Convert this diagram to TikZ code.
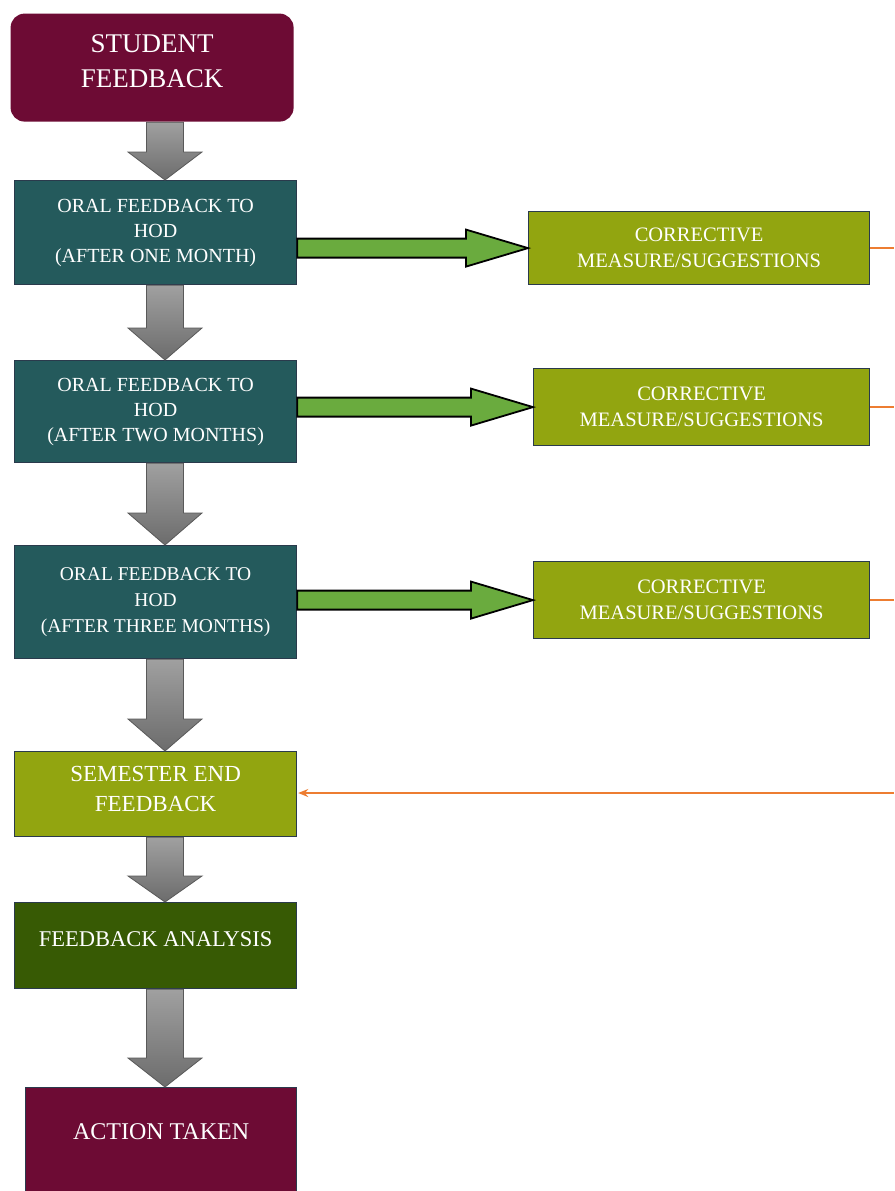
\documentclass[tikz,border=0pt]{standalone}
\usepackage{fontspec}
\setmainfont{Liberation Serif}
\usetikzlibrary{calc,arrows.meta}

\definecolor{wine}{HTML}{6D0B34}
\definecolor{deepteal}{HTML}{245A5C}
\definecolor{olive}{HTML}{92A510}
\definecolor{forest}{HTML}{375A04}
\definecolor{boxline}{HTML}{2A3A4C}
\definecolor{leaf}{HTML}{6AAB3E}
\definecolor{tangerine}{HTML}{ED7D31}
\definecolor{steeltop}{HTML}{A0A0A0}
\definecolor{steelbot}{HTML}{6C6C6C}

% wide grey block arrow pointing down, from one box to the next
\newcommand\downflow[3]{%
  \path[grayarrow] let \p1=(#1.south), \p2=(#2.north) in
    (146.5pt,\y1) -- (183.5pt,\y1) -- (183.5pt,\y2+#3) -- (202pt,\y2+#3)
    -- (165pt,\y2) -- (128pt,\y2+#3) -- (146.5pt,\y2+#3) -- cycle;}

% green block arrow pointing right, into a side box
\newcommand\rightflow[2]{%
  \path[greenarrow] let \p1=(#1.east), \p2=(#2.west) in
    (\x1,\y2+9.5pt) -- (\x2-62pt,\y2+9.5pt) -- (\x2-62pt,\y2+18.5pt)
    -- (\x2,\y2) -- (\x2-62pt,\y2-18.5pt) -- (\x2-62pt,\y2-9.5pt)
    -- (\x1,\y2-9.5pt) -- cycle;}

\begin{document}
\begin{tikzpicture}[x=1pt,y=-1pt,
  box/.style={draw=boxline, line width=1.2pt, text=white, align=center,
    anchor=north west, inner sep=0pt},
  grayarrow/.style={draw=black!65, line width=0.8pt,
    top color=steeltop, bottom color=steelbot},
  greenarrow/.style={draw=black, line width=1.8pt, fill=leaf},
  orangeline/.style={draw=tangerine, line width=2.2pt},
]
\useasboundingbox (0,0) rectangle (894,1191);
\clip (0,0) rectangle (894,1191);
\fill[white] (0,0) rectangle (894,1191);

% main column
\node[box, draw=none, fill=wine, rounded corners=14pt,
  minimum width=283pt, minimum height=108pt, text depth=14pt,
  font=\fontsize{27}{35}\selectfont] (sf) at (10,13) {STUDENT\\FEEDBACK};

\node[box, fill=deepteal, minimum width=282pt, minimum height=104pt,
  font=\fontsize{20}{25}\selectfont] (o1) at (14,180)
  {ORAL FEEDBACK TO\\HOD\\(AFTER ONE MONTH)};

\node[box, fill=deepteal, minimum width=282pt, minimum height=102pt,
  font=\fontsize{20}{25}\selectfont] (o2) at (14,360)
  {ORAL FEEDBACK TO\\HOD\\(AFTER TWO MONTHS)};

\node[box, fill=deepteal, minimum width=282pt, minimum height=113pt,
  font=\fontsize{19.5}{26}\selectfont] (o3) at (14,545)
  {ORAL FEEDBACK TO\\HOD\\(AFTER THREE MONTHS)};

\node[box, fill=olive, minimum width=282pt, minimum height=85pt,
  text depth=10pt, font=\fontsize{23}{30}\selectfont] (sem) at (14,751)
  {SEMESTER END\\FEEDBACK};

\node[box, fill=forest, minimum width=282pt, minimum height=86pt,
  text depth=14pt, font=\fontsize{22.5}{28}\selectfont] (fa) at (14,902)
  {FEEDBACK ANALYSIS};

\node[box, fill=wine, minimum width=271pt, minimum height=115pt,
  text depth=28pt, font=\fontsize{24}{28}\selectfont] (at) at (25,1087)
  {ACTION TAKEN};

% side boxes
\node[box, fill=olive, minimum width=341pt, minimum height=73pt,
  font=\fontsize{20.5}{26}\selectfont] (c1) at (528,211)
  {CORRECTIVE\\MEASURE/SUGGESTIONS};
\node[box, fill=olive, minimum width=336pt, minimum height=77pt,
  font=\fontsize{20.5}{26}\selectfont] (c2) at (533,368)
  {CORRECTIVE\\MEASURE/SUGGESTIONS};
\node[box, fill=olive, minimum width=336pt, minimum height=77pt,
  font=\fontsize{20.5}{26}\selectfont] (c3) at (533,561)
  {CORRECTIVE\\MEASURE/SUGGESTIONS};

% downward flow
\downflow{sf}{o1}{28pt}
\downflow{o1}{o2}{32pt}
\downflow{o2}{o3}{32pt}
\downflow{o3}{sem}{32pt}
\downflow{sem}{fa}{26pt}
\downflow{fa}{at}{29pt}

% sideways flow
\rightflow{o1}{c1}
\rightflow{o2}{c2}
\rightflow{o3}{c3}

% feedback loop back into the semester-end box
\coordinate (rim) at (894,0);
\coordinate (back) at (894,793);
\draw[orangeline] (c1.east) -- (c1.east -| rim);
\draw[orangeline] (c2.east) -- (c2.east -| rim);
\draw[orangeline] (c3.east) -- (c3.east -| rim);
\draw[orangeline, -{Stealth[length=10pt,width=8pt]}, shorten >=1pt]
  (back) -- (sem.east |- back);
\end{tikzpicture}
\end{document}
